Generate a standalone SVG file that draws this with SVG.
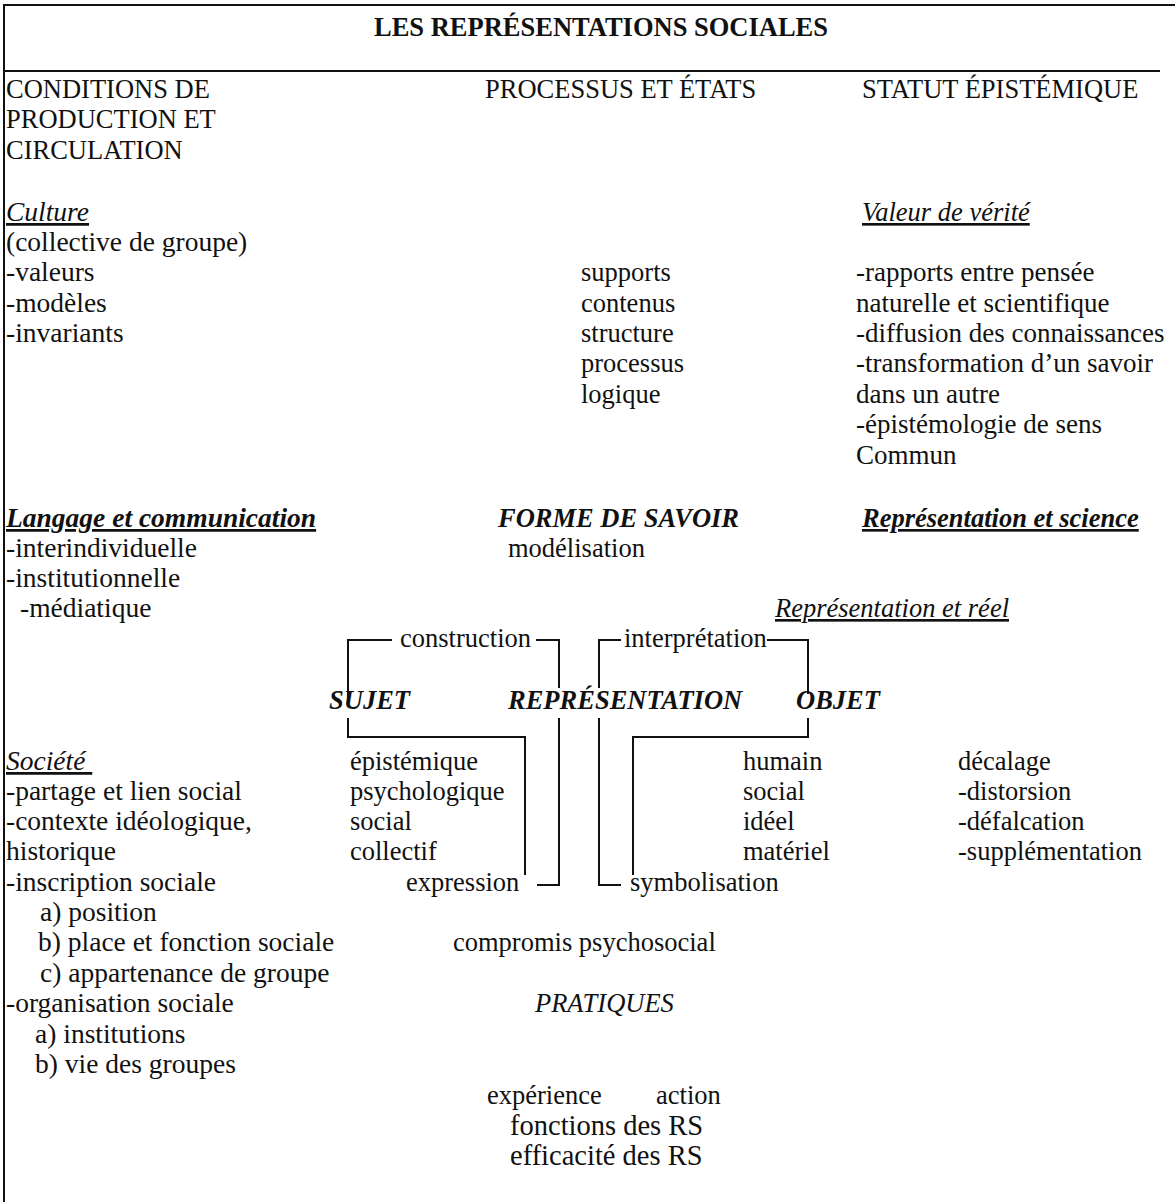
<svg xmlns="http://www.w3.org/2000/svg" width="1175" height="1204" viewBox="0 0 1175 1204">
<style>
text{font-family:"Liberation Serif","Times New Roman",serif;font-size:26.5px;fill:#111}
.b{font-weight:bold}
.i{font-style:italic}
.u{text-decoration:underline}
.big{font-size:28.5px}
.l{font-size:27.5px}
.r{font-size:27px}
.ln{stroke:#111;stroke-width:2;fill:none}
</style>
<rect width="1175" height="1204" fill="#fff"/>
<g id="frame">
<line class="ln" x1="4" y1="5" x2="1175" y2="5"/>
<line class="ln" x1="4" y1="71" x2="1160" y2="71"/>
<line class="ln" x1="4" y1="4" x2="4" y2="1202"/>
</g>
<g id="title"><text class="b" x="601" y="36" text-anchor="middle">LES REPRÉSENTATIONS SOCIALES</text></g>
<g id="col-conditions">
<text x="6" y="98">CONDITIONS DE</text>
<text x="6" y="128">PRODUCTION ET</text>
<text x="6" y="159">CIRCULATION</text>
</g>
<g id="col-processus"><text x="485" y="98">PROCESSUS ET ÉTATS</text></g>
<g id="col-statut"><text x="862" y="98">STATUT ÉPISTÉMIQUE</text></g>
<g id="culture">
<text class="i u l" x="6" y="221">Culture</text>
<text class="l" x="6" y="251">(collective de groupe)</text>
<text class="l" x="6" y="281">-valeurs</text>
<text class="l" x="6" y="312">-modèles</text>
<text class="l" x="6" y="342">-invariants</text>
</g>
<g id="supports">
<text x="581" y="281">supports</text>
<text x="581" y="312">contenus</text>
<text x="581" y="342">structure</text>
<text x="581" y="372">processus</text>
<text x="581" y="403">logique</text>
</g>
<g id="valeur">
<text class="i u" x="862" y="221">Valeur de vérité</text>
<text class="r" x="856" y="281">-rapports entre pensée</text>
<text class="r" x="856" y="312">naturelle et scientifique</text>
<text class="r" x="856" y="342">-diffusion des connaissances</text>
<text class="r" x="856" y="372">-transformation d’un savoir</text>
<text class="r" x="856" y="403">dans un autre</text>
<text class="r" x="856" y="433">-épistémologie de sens</text>
<text class="r" x="856" y="464">Commun</text>
</g>
<g id="langage">
<text class="b i u l" x="6" y="527">Langage et communication</text>
<text class="l" x="6" y="557">-interindividuelle</text>
<text class="l" x="6" y="587">-institutionnelle</text>
<text class="l" x="20" y="617">-médiatique</text>
</g>
<g id="forme">
<text class="b i" x="498" y="527">FORME DE SAVOIR</text>
<text x="508" y="557">modélisation</text>
</g>
<g id="science">
<text class="b i u" x="862" y="527">Représentation et science</text>
<text class="i u" x="775" y="617">Représentation et réel</text>
</g>
<g id="construction"><text x="400" y="647">construction</text></g>
<g id="interpretation"><text x="624" y="647">interprétation</text></g>
<g id="sujet"><text class="b i" x="329" y="709">SUJET</text></g>
<g id="representation"><text class="b i" x="508" y="709">REPRÉSENTATION</text></g>
<g id="objet"><text class="b i" x="796" y="709">OBJET</text></g>
<g id="societe">
<text class="i u l" x="6" y="770" xml:space="preserve">Société </text>
<text class="l" x="6" y="800">-partage et lien social</text>
<text class="l" x="6" y="830">-contexte idéologique,</text>
<text class="l" x="6" y="860">historique</text>
<text class="l" x="6" y="891">-inscription sociale</text>
<text class="l" x="40" y="921">a) position</text>
<text class="l" x="38" y="951">b) place et fonction sociale</text>
<text class="l" x="40" y="982">c) appartenance de groupe</text>
<text class="l" x="6" y="1012">-organisation sociale</text>
<text class="l" x="35" y="1043">a) institutions</text>
<text class="l" x="35" y="1073">b) vie des groupes</text>
</g>
<g id="sujet-types">
<text x="350" y="770">épistémique</text>
<text x="350" y="800">psychologique</text>
<text x="350" y="830">social</text>
<text x="350" y="860">collectif</text>
</g>
<g id="expression"><text x="406" y="891">expression</text></g>
<g id="symbolisation"><text x="630" y="891">symbolisation</text></g>
<g id="objet-types">
<text x="743" y="770">humain</text>
<text x="743" y="800">social</text>
<text x="743" y="830">idéel</text>
<text x="743" y="860">matériel</text>
</g>
<g id="decalage">
<text x="958" y="770">décalage</text>
<text x="958" y="800">-distorsion</text>
<text x="958" y="830">-défalcation</text>
<text x="958" y="860">-supplémentation</text>
</g>
<g id="pratiques">
<text x="453" y="951">compromis psychosocial</text>
<text class="i" x="535" y="1012">PRATIQUES</text>
<text x="487" y="1104">expérience</text>
<text x="656" y="1104">action</text>
<text class="big" x="510" y="1135">fonctions des RS</text>
<text class="big" x="510" y="1165">efficacité des RS</text>
</g>
<g id="connectors">
<polyline class="ln" points="348,700 348,640 392,640"/>
<polyline class="ln" points="536,640 559,640 559,688"/>
<polyline class="ln" points="599,688 599,640 621,640"/>
<polyline class="ln" points="767,640 808,640 808,694"/>
<polyline class="ln" points="348,718 348,737 525,737 525,875"/>
<polyline class="ln" points="559,718 559,885 537,885"/>
<polyline class="ln" points="599,718 599,885 621,885"/>
<polyline class="ln" points="808,718 808,737 633,737 633,875"/>
</g>
</svg>
